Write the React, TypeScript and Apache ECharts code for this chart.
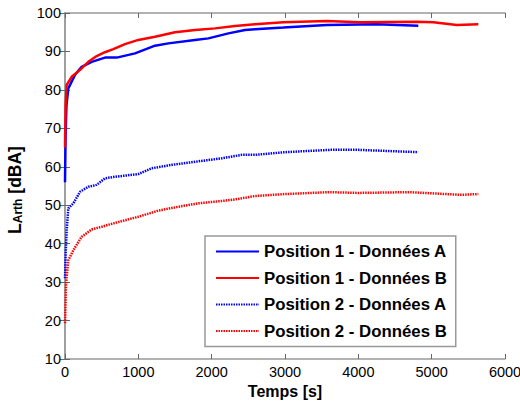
import React, { useEffect, useRef } from "react";
import * as echarts from "echarts";

const seriesNames = [
  "Position 1 - Données A",
  "Position 1 - Données B",
  "Position 2 - Données A",
  "Position 2 - Données B",
];

const pos1A: [number, number][] = [
  [0, 56], [8, 68], [20, 76], [45, 80.4], [136, 83.9], [227, 86], [364, 87.3],
  [545, 88.4], [705, 88.4], [955, 89.5], [1227, 91.5], [1409, 92.1], [1773, 93],
  [1955, 93.4], [2228, 94.7], [2455, 95.6], [2591, 95.8], [2977, 96.2],
  [3568, 96.9], [4250, 97.1], [4818, 96.7],
];

const pos1B: [number, number][] = [
  [0, 65], [8, 76], [23, 81.3], [91, 83.4], [205, 85.2], [318, 87.3], [432, 88.8],
  [545, 89.8], [659, 90.6], [818, 91.9], [1000, 93], [1227, 93.8], [1500, 95],
  [1773, 95.6], [2045, 96], [2318, 96.6], [2591, 97.1], [2977, 97.6],
  [3568, 97.9], [4023, 97.6], [4795, 97.7], [5023, 97.6], [5341, 96.9], [5636, 97.1],
];

const pos2A: [number, number][] = [
  [0, 31], [10, 38], [23, 43.5], [45, 49.2], [114, 50.5], [205, 53.5], [318, 54.8],
  [432, 55.3], [545, 57], [682, 57.4], [1000, 58.1], [1182, 59.6], [1455, 60.5],
  [1773, 61.3], [2136, 62.2], [2409, 63.1], [2591, 63.1], [3000, 63.8],
  [3614, 64.4], [4000, 64.4], [4815, 63.8],
];

const pos2B: [number, number][] = [
  [0, 19.3], [14, 29.7], [45, 35.7], [114, 38.3], [227, 41.8], [364, 43.7],
  [500, 44.4], [682, 45.4], [1000, 47], [1273, 48.6], [1545, 49.6], [1818, 50.5],
  [2136, 51.1], [2318, 51.5], [2591, 52.4], [3000, 52.9], [3600, 53.4],
  [4000, 53.2], [4700, 53.4], [5400, 52.7], [5636, 52.9],
];

const FONT = "'Liberation Sans', Arial, sans-serif";

export default function App() {
  const ref = useRef<HTMLDivElement>(null);
  useEffect(() => {
    if (!ref.current) return;
    const chart = echarts.init(ref.current, null, { renderer: "svg" });
    const axisLine = { show: true, lineStyle: { color: "#999", width: 1.5 } };
    const tick = { show: true, inside: true, length: 5, lineStyle: { color: "#666" } };
    const mk = (name: string, data: [number, number][], color: string, dotted: boolean) => ({
      name,
      type: "line",
      data,
      symbol: "none",
      xAxisIndex: 0,
      yAxisIndex: 0,
      lineStyle: { color, width: 2.5, type: dotted ? [1.5, 1] : "solid" },
      itemStyle: { color },
    });
    chart.setOption({
      animation: false,
      backgroundColor: "#fff",
      grid: { left: 65, right: 15, top: 13, bottom: 44, containLabel: false, outerBoundsMode: "none" },
      legend: {
        orient: "vertical",
        left: 205,
        top: 236,
        itemWidth: 43,
        itemHeight: 14,
        itemGap: 9.5,
        padding: [7, 9, 7, 10],
        borderColor: "#999",
        borderWidth: 1.5,
        backgroundColor: "#fff",
        itemStyle: { color: "rgba(0,0,0,0)", borderWidth: 0, opacity: 0 },
        textStyle: { fontFamily: FONT, fontSize: 16.8, lineHeight: 16, fontWeight: "bold", color: "#000" },
        data: seriesNames,
      },
      xAxis: [
        {
          type: "value",
          min: 0,
          max: 6000,
          interval: 1000,
          name: "Temps [s]",
          nameLocation: "middle",
          nameGap: 23,
          nameTextStyle: { fontFamily: FONT, fontSize: 16, fontWeight: "bold", color: "#000" },
          axisLine,
          axisTick: tick,
          splitLine: { show: false },
          axisLabel: { fontFamily: FONT, fontSize: 14.5, color: "#000", margin: 5, formatter: (v: number) => String(v) },
        },
        {
          type: "value",
          position: "top",
          min: 0,
          max: 6000,
          interval: 1000,
          axisLine,
          axisTick: tick,
          splitLine: { show: false },
          axisLabel: { show: false },
        },
      ],
      yAxis: [
        {
          type: "value",
          min: 10,
          max: 100,
          interval: 10,
          name: "{a|L}{b|Arth}{a| [dBA]}",
          nameLocation: "middle",
          nameGap: 41,
          nameTextStyle: {
            fontFamily: FONT,
            color: "#000",
            padding: [0, 8, 0, 0],
            rich: {
              a: { fontFamily: FONT, fontSize: 17.5, fontWeight: "bold", color: "#000", lineHeight: 20, verticalAlign: "bottom" },
              b: { fontFamily: FONT, fontSize: 12, fontWeight: "bold", color: "#000", lineHeight: 20, verticalAlign: "bottom", padding: [7, 0, 0, 0] },
            },
          },
          axisLine,
          axisTick: tick,
          splitLine: { show: false },
          axisLabel: { fontFamily: FONT, fontSize: 14.5, color: "#000", margin: 4 },
        },
        {
          type: "value",
          position: "right",
          min: 10,
          max: 100,
          interval: 10,
          axisLine,
          axisTick: tick,
          splitLine: { show: false },
          axisLabel: { show: false },
        },
      ],
      series: [
        mk(seriesNames[0], pos1A, "#0000ff", false),
        mk(seriesNames[1], pos1B, "#ff0000", false),
        mk(seriesNames[2], pos2A, "#0000ff", true),
        mk(seriesNames[3], pos2B, "#ff0000", true),
      ],
    });
    return () => chart.dispose();
  }, []);
  return <div ref={ref} style={{ position: "fixed", left: 0, top: 0, width: 520, height: 403 }} />;
}
